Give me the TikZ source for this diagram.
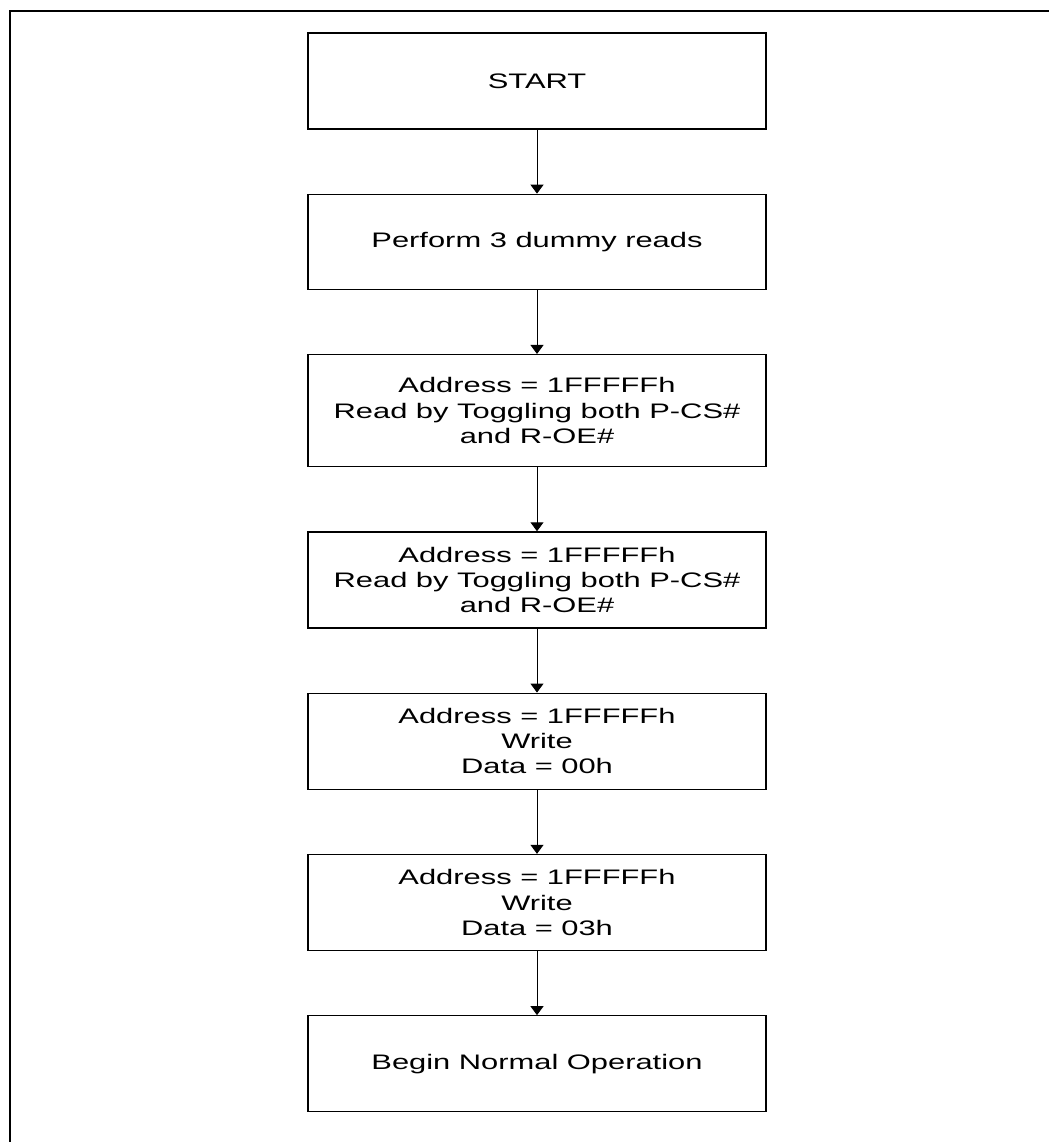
\documentclass[tikz,border=0pt]{standalone}
\usepackage{fontspec}
\setmainfont[FakeStretch=1.47]{Liberation Sans}
\usetikzlibrary{arrows.meta, positioning}

\begin{document}
\begin{tikzpicture}[
    flowbox/.style={draw, line width=0.65pt, minimum width=229pt, minimum height=48pt, align=center, inner sep=0pt, font=\fontsize{10.5}{12.6}\selectfont},
    flowarrow/.style={-{Triangle[width=6.5pt, length=4.5pt]}, line width=0.5pt},
    node distance=32pt
  ]
  \useasboundingbox (0,0) rectangle (524.5pt,-571pt);
  % page frame
  \draw[line width=1pt] (5pt,-571pt) -- (5pt,-5.5pt) -- (524.5pt,-5.5pt);
  % steps
  \node[flowbox] (start) at (268.5pt,-40.5pt) {START};
  \node[flowbox, below=of start, minimum height=47.5pt] (dummy) {Perform 3 dummy reads};
  \node[flowbox, below=of dummy, minimum height=56pt] (readA) {Address = 1FFFFFh\\Read by Toggling both P-CS\#\\and R-OE\#};
  \node[flowbox, below=of readA] (readB) {Address = 1FFFFFh\\Read by Toggling both P-CS\#\\and R-OE\#};
  \node[flowbox, below=of readB] (writeA) {Address = 1FFFFFh\\Write\\Data = 00h};
  \node[flowbox, below=of writeA] (writeB) {Address = 1FFFFFh\\Write\\Data = 03h};
  \node[flowbox, below=of writeB] (normal) {Begin Normal Operation};
  % arrows
  \foreach \from/\to in {start/dummy, dummy/readA, readA/readB, readB/writeA, writeA/writeB, writeB/normal}
    \draw[flowarrow] (\from) -- (\to);
\end{tikzpicture}
\end{document}
